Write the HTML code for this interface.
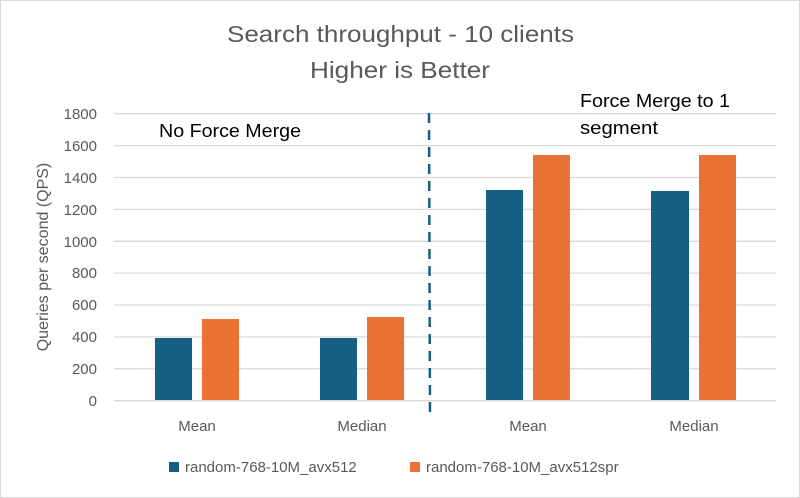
<!DOCTYPE html><html><head><style>body{margin:0}svg{display:block}text{font-family:"Liberation Sans",sans-serif}</style></head><body>
<svg width="800" height="498" viewBox="0 0 800 498">
<rect x="0.5" y="0.5" width="799" height="497" fill="#fff" stroke="#d9d9d9"/>
<text x="227" y="42" font-size="23" fill="#595959" textLength="347" lengthAdjust="spacingAndGlyphs">Search throughput - 10 clients</text>
<text x="310" y="78" font-size="23" fill="#595959" textLength="180" lengthAdjust="spacingAndGlyphs">Higher is Better</text>
<g stroke="#d9d9d9" stroke-width="1.3">
<line x1="114" x2="776" y1="113.7" y2="113.7"/><line x1="114" x2="776" y1="145.6" y2="145.6"/><line x1="114" x2="776" y1="177.5" y2="177.5"/><line x1="114" x2="776" y1="209.4" y2="209.4"/><line x1="114" x2="776" y1="241.3" y2="241.3"/><line x1="114" x2="776" y1="273.1" y2="273.1"/><line x1="114" x2="776" y1="305" y2="305"/><line x1="114" x2="776" y1="336.9" y2="336.9"/><line x1="114" x2="776" y1="368.8" y2="368.8"/><line x1="114" x2="776" y1="400.7" y2="400.7"/>
</g>
<g font-size="15" fill="#595959" text-anchor="end">
<text x="97" y="119">1800</text><text x="97" y="151">1600</text><text x="97" y="183">1400</text><text x="97" y="215">1200</text><text x="97" y="247">1000</text><text x="97" y="278">800</text><text x="97" y="310">600</text><text x="97" y="342">400</text><text x="97" y="374">200</text><text x="97" y="406">0</text>
</g>
<text transform="translate(48,257) rotate(-90)" text-anchor="middle" font-size="16" fill="#595959">Queries per second (QPS)</text>
<g fill="#156082"><rect x="155" y="338" width="37" height="62"/><rect x="320" y="338" width="37" height="62"/><rect x="486" y="190" width="37" height="210"/><rect x="651" y="191" width="38" height="209"/></g>
<g fill="#E97132"><rect x="202" y="319" width="37" height="81"/><rect x="367" y="317" width="37" height="83"/><rect x="533" y="155" width="37" height="245"/><rect x="699" y="155" width="37" height="245"/></g>
<line x1="429" y1="113" x2="430" y2="418" stroke="#156082" stroke-width="2.5" stroke-dasharray="10,7"/>
<g font-size="15" fill="#595959" text-anchor="middle"><text x="197" y="431">Mean</text><text x="362" y="431">Median</text><text x="528" y="431">Mean</text><text x="694" y="431">Median</text></g>
<text x="159" y="137" font-size="18" fill="#000" textLength="142" lengthAdjust="spacingAndGlyphs">No Force Merge</text>
<text x="580" y="107" font-size="18" fill="#000" textLength="150" lengthAdjust="spacingAndGlyphs">Force Merge to 1</text>
<text x="580" y="134" font-size="18" fill="#000" textLength="78" lengthAdjust="spacingAndGlyphs">segment</text>
<rect x="169" y="462" width="10" height="10" fill="#156082"/><text x="185" y="472" font-size="15" fill="#595959">random-768-10M_avx512</text>
<rect x="410" y="462" width="10" height="10" fill="#E97132"/><text x="426" y="472" font-size="15" fill="#595959">random-768-10M_avx512spr</text>
</svg></body></html>
